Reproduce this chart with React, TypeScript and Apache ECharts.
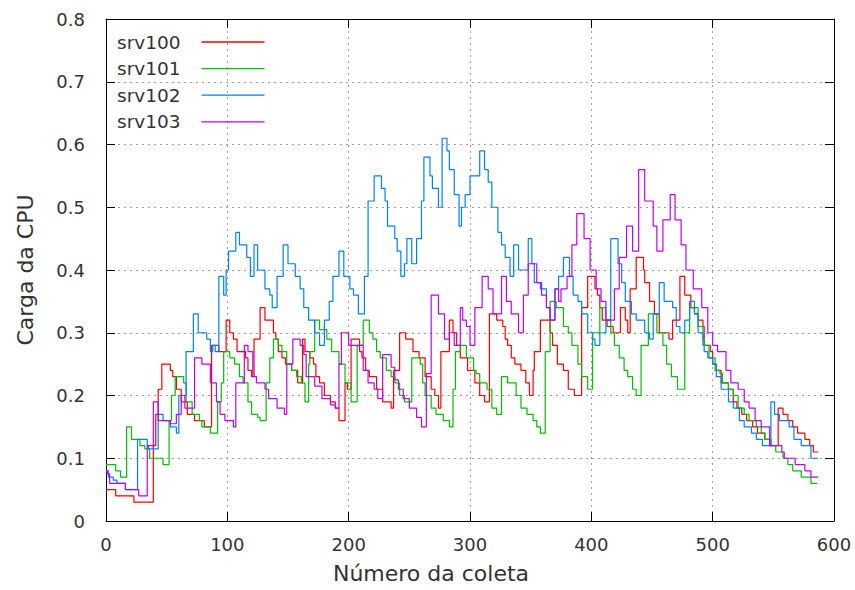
import React, { useEffect, useRef } from "react";
import * as echarts from "echarts";

// Sampled CPU load per server: [collection number, load], value holds until the next sample
const srv100: [number, number][] = [
  [0, 0.05], [8, 0.04], [23, 0.03], [39, 0.12], [41, 0.17], [43, 0.21], [46, 0.25], [53, 0.24], [55, 0.23],
  [58, 0.21], [62, 0.19], [67, 0.17], [73, 0.16], [81, 0.15], [87, 0.28], [93, 0.27], [99, 0.32], [102, 0.3],
  [105, 0.29], [108, 0.27], [115, 0.26], [117, 0.24], [120, 0.23], [122, 0.29], [127, 0.34], [131, 0.32],
  [138, 0.3], [140, 0.29], [142, 0.27], [145, 0.26], [148, 0.25], [153, 0.24], [158, 0.22], [162, 0.29],
  [164, 0.27], [168, 0.26], [171, 0.25], [173, 0.23], [176, 0.22], [180, 0.2], [185, 0.19], [189, 0.18],
  [192, 0.16], [197, 0.22], [199, 0.21], [202, 0.29], [209, 0.27], [211, 0.26], [214, 0.24], [217, 0.23],
  [223, 0.21], [228, 0.19], [235, 0.18], [237, 0.24], [242, 0.3], [247, 0.29], [253, 0.27], [258, 0.26],
  [263, 0.23], [268, 0.21], [271, 0.2], [274, 0.18], [276, 0.27], [283, 0.32], [286, 0.3], [289, 0.28],
  [292, 0.26], [298, 0.24], [304, 0.22], [308, 0.2], [312, 0.19], [316, 0.33], [322, 0.32], [327, 0.31],
  [329, 0.29], [331, 0.28], [334, 0.26], [337, 0.25], [342, 0.24], [346, 0.22], [349, 0.2], [352, 0.24],
  [353, 0.27], [358, 0.32], [366, 0.3], [368, 0.28], [372, 0.25], [377, 0.24], [381, 0.21], [386, 0.2],
  [392, 0.34], [397, 0.39], [403, 0.37], [405, 0.36], [407, 0.34], [409, 0.32], [413, 0.31], [418, 0.3],
  [424, 0.34], [428, 0.32], [430, 0.3], [432, 0.37], [437, 0.42], [443, 0.4], [444, 0.38], [448, 0.35],
  [452, 0.33], [456, 0.3], [464, 0.29], [467, 0.32], [473, 0.39], [477, 0.36], [482, 0.34], [485, 0.33],
  [488, 0.32], [492, 0.31], [493, 0.28], [498, 0.27], [500, 0.25], [503, 0.24], [507, 0.22], [513, 0.21],
  [517, 0.19], [520, 0.18], [524, 0.17], [528, 0.16], [533, 0.15], [537, 0.14], [543, 0.13], [548, 0.12],
  [554, 0.18], [558, 0.17], [562, 0.16], [566, 0.15], [570, 0.14], [576, 0.13], [580, 0.12], [583, 0.11],
  [587, 0.11],
];

const srv101: [number, number][] = [
  [0, 0.09], [8, 0.08], [12, 0.07], [17, 0.15], [21, 0.13], [28, 0.12], [32, 0.115], [36, 0.1], [47, 0.09],
  [52, 0.16], [54, 0.2], [57, 0.23], [64, 0.22], [66, 0.19], [71, 0.17], [77, 0.16], [79, 0.15], [86, 0.14],
  [92, 0.19], [95, 0.22], [97, 0.27], [102, 0.26], [106, 0.25], [110, 0.23], [113, 0.22], [117, 0.19],
  [120, 0.17], [125, 0.165], [127, 0.16], [132, 0.22], [135, 0.26], [138, 0.29], [142, 0.28], [145, 0.27],
  [149, 0.25], [153, 0.24], [157, 0.23], [161, 0.22], [164, 0.19], [167, 0.25], [168, 0.27], [172, 0.32],
  [176, 0.305], [182, 0.29], [186, 0.27], [192, 0.25], [197, 0.22], [202, 0.19], [207, 0.28], [212, 0.32],
  [217, 0.3], [220, 0.29], [223, 0.27], [226, 0.26], [231, 0.24], [235, 0.23], [238, 0.22], [242, 0.2],
  [246, 0.19], [252, 0.26], [259, 0.25], [261, 0.22], [263, 0.2], [268, 0.18], [272, 0.17], [278, 0.16],
  [283, 0.15], [286, 0.21], [288, 0.27], [292, 0.28], [297, 0.26], [303, 0.24], [305, 0.235], [308, 0.22],
  [314, 0.21], [318, 0.18], [322, 0.17], [326, 0.23], [331, 0.22], [338, 0.2], [342, 0.18], [347, 0.17],
  [352, 0.16], [355, 0.15], [358, 0.14], [362, 0.27], [366, 0.35], [371, 0.34], [377, 0.31], [381, 0.3],
  [384, 0.28], [389, 0.25], [392, 0.23], [397, 0.21], [401, 0.3], [407, 0.34], [412, 0.32], [416, 0.3],
  [419, 0.28], [423, 0.26], [427, 0.24], [430, 0.23], [434, 0.21], [437, 0.2], [441, 0.28], [447, 0.33],
  [454, 0.3], [459, 0.28], [462, 0.25], [466, 0.23], [471, 0.21], [477, 0.3], [481, 0.34], [488, 0.31],
  [492, 0.29], [493, 0.28], [497, 0.26], [502, 0.24], [506, 0.235], [508, 0.22], [513, 0.21], [517, 0.2],
  [521, 0.18], [526, 0.17], [530, 0.16], [536, 0.15], [540, 0.14], [543, 0.13], [547, 0.12], [552, 0.11],
  [558, 0.1], [562, 0.09], [566, 0.08], [573, 0.07], [581, 0.06], [586, 0.06],
];

const srv102: [number, number][] = [
  [0, 0.08], [2, 0.07], [6, 0.065], [9, 0.06], [16, 0.05], [26, 0.13], [34, 0.12], [35, 0.115], [43, 0.17],
  [47, 0.16], [53, 0.15], [58, 0.14], [60, 0.2], [66, 0.27], [72, 0.33], [76, 0.3], [83, 0.29], [86, 0.27],
  [88, 0.28], [90, 0.27], [93, 0.39], [97, 0.36], [99, 0.4], [101, 0.43], [107, 0.46], [110, 0.44],
  [116, 0.42], [119, 0.39], [122, 0.44], [125, 0.4], [131, 0.37], [135, 0.36], [137, 0.34], [141, 0.39],
  [146, 0.44], [150, 0.41], [156, 0.39], [160, 0.37], [163, 0.34], [167, 0.32], [172, 0.3], [176, 0.28],
  [180, 0.32], [184, 0.35], [187, 0.39], [192, 0.43], [196, 0.39], [201, 0.37], [204, 0.36], [208, 0.33],
  [213, 0.39], [216, 0.51], [221, 0.55], [227, 0.53], [230, 0.51], [232, 0.47], [238, 0.45], [240, 0.43],
  [243, 0.39], [246, 0.41], [248, 0.45], [252, 0.41], [256, 0.45], [260, 0.51], [262, 0.58], [267, 0.55],
  [269, 0.53], [274, 0.5], [277, 0.61], [281, 0.59], [283, 0.56], [287, 0.52], [291, 0.47], [293, 0.5],
  [296, 0.52], [300, 0.55], [308, 0.59], [312, 0.56], [315, 0.54], [318, 0.5], [323, 0.46], [326, 0.44],
  [329, 0.42], [333, 0.39], [336, 0.44], [340, 0.4], [348, 0.45], [351, 0.41], [353, 0.38], [358, 0.37],
  [363, 0.34], [366, 0.32], [370, 0.37], [373, 0.39], [377, 0.42], [382, 0.39], [385, 0.36], [389, 0.35],
  [392, 0.33], [397, 0.3], [401, 0.29], [403, 0.28], [407, 0.3], [412, 0.32], [416, 0.45], [422, 0.41],
  [425, 0.38], [428, 0.35], [433, 0.33], [437, 0.32], [444, 0.3], [448, 0.29], [451, 0.33], [456, 0.38],
  [460, 0.35], [467, 0.34], [470, 0.31], [473, 0.3], [477, 0.32], [481, 0.35], [485, 0.33], [488, 0.3],
  [492, 0.28], [493, 0.27], [496, 0.26], [500, 0.25], [503, 0.23], [507, 0.21], [513, 0.19], [517, 0.18],
  [522, 0.16], [526, 0.15], [532, 0.14], [536, 0.13], [541, 0.12], [548, 0.19], [551, 0.17], [555, 0.16],
  [563, 0.15], [567, 0.13], [573, 0.12], [581, 0.1], [587, 0.1],
];

const srv103: [number, number][] = [
  [0, 0.08], [1, 0.075], [3, 0.06], [16, 0.05], [27, 0.04], [34, 0.12], [39, 0.19], [43, 0.16], [53, 0.155],
  [58, 0.17], [62, 0.2], [65, 0.18], [73, 0.26], [79, 0.25], [86, 0.22], [91, 0.19], [94, 0.17], [98, 0.16],
  [105, 0.15], [107, 0.22], [114, 0.28], [117, 0.27], [121, 0.23], [124, 0.22], [131, 0.21], [134, 0.195],
  [141, 0.18], [147, 0.17], [149, 0.25], [154, 0.29], [160, 0.28], [163, 0.265], [165, 0.23], [172, 0.215],
  [178, 0.195], [185, 0.185], [189, 0.18], [192, 0.25], [194, 0.3], [200, 0.28], [212, 0.24], [216, 0.22],
  [221, 0.21], [224, 0.195], [228, 0.265], [235, 0.245], [238, 0.225], [241, 0.21], [245, 0.195], [250, 0.18],
  [256, 0.165], [260, 0.15], [264, 0.235], [268, 0.36], [274, 0.33], [279, 0.29], [283, 0.3], [287, 0.28],
  [292, 0.34], [294, 0.32], [297, 0.31], [300, 0.28], [304, 0.34], [310, 0.39], [315, 0.37], [319, 0.33],
  [326, 0.39], [330, 0.35], [334, 0.33], [340, 0.3], [344, 0.36], [348, 0.41], [355, 0.38], [359, 0.36],
  [363, 0.34], [366, 0.32], [370, 0.37], [373, 0.35], [375, 0.37], [380, 0.39], [384, 0.44], [388, 0.49],
  [394, 0.45], [399, 0.4], [404, 0.37], [408, 0.35], [412, 0.32], [419, 0.37], [423, 0.42], [429, 0.47],
  [434, 0.43], [439, 0.56], [444, 0.51], [451, 0.47], [454, 0.43], [459, 0.48], [465, 0.52], [469, 0.48],
  [474, 0.44], [478, 0.4], [484, 0.37], [491, 0.34], [496, 0.3], [500, 0.28], [504, 0.27], [511, 0.24],
  [515, 0.22], [521, 0.21], [526, 0.19], [530, 0.18], [535, 0.16], [540, 0.15], [547, 0.12], [557, 0.11],
  [559, 0.1], [568, 0.09], [576, 0.08], [581, 0.07], [587, 0.07],
];

const serverNames = ["srv100", "srv101", "srv102", "srv103"];
const serverColors = ["#ff0000", "#00c000", "#0080ff", "#c000ff"];
const serverData = [srv100, srv101, srv102, srv103];

const xRange = { min: 0, max: 600, step: 100 };
const yRange = { min: 0, max: 0.8, step: 0.1 };

const FONT = "DejaVu Sans";
const INK = "#000000";
const TEXT = "#333333";

function frameAxis(position: string, extra: Record<string, unknown>) {
  return {
    type: "value",
    position,
    axisLine: { show: true, onZero: false, lineStyle: { color: INK, width: 1 } },
    axisTick: { show: true, inside: true, length: 9, lineStyle: { color: INK, width: 1 } },
    ...extra,
  };
}

export default function App() {
  const ref = useRef<HTMLDivElement>(null);

  useEffect(() => {
    if (!ref.current) return;
    const chart = echarts.init(ref.current, undefined, { renderer: "svg" });

    const gridLine = { show: true, lineStyle: { color: "#a0a0a0", width: 1, type: [2, 4] } };

    chart.setOption({
      animation: false,
      backgroundColor: "#ffffff",
      grid: { left: 106, right: 21, top: 19, bottom: 69, containLabel: false },
      legend: {
        orient: "vertical",
        left: 117,
        top: 32,
        padding: 0,
        align: "right",
        itemWidth: 79,
        itemHeight: 14,
        itemGap: 6.6,
        icon: "path://M0,0M16,0L79,0L79,1.3L16,1.3Z",
        itemStyle: { borderWidth: 0 },
        textStyle: { fontFamily: FONT, fontSize: 18.5, color: TEXT, lineHeight: 20 },
        data: serverNames,
      },
      xAxis: [
        frameAxis("bottom", {
          min: xRange.min,
          max: xRange.max,
          interval: xRange.step,
          axisLabel: { show: true, margin: 14, fontFamily: FONT, fontSize: 18, color: TEXT },
          splitLine: gridLine,
          name: "Número da coleta",
          nameLocation: "middle",
          nameGap: 41,
          nameTextStyle: { fontFamily: FONT, fontSize: 22, color: TEXT, padding: [0, 78, 0, 0] },
        }),
        frameAxis("top", {
          min: xRange.min,
          max: xRange.max,
          interval: xRange.step,
          axisLabel: { show: false },
          splitLine: { show: false },
        }),
      ],
      yAxis: [
        frameAxis("left", {
          min: yRange.min,
          max: yRange.max,
          interval: yRange.step,
          axisLabel: { show: true, margin: 21, fontFamily: FONT, fontSize: 18, color: TEXT },
          splitLine: gridLine,
          name: "Carga da CPU",
          nameLocation: "middle",
          nameGap: 70,
          nameTextStyle: { fontFamily: FONT, fontSize: 22, color: TEXT },
        }),
        frameAxis("right", {
          min: yRange.min,
          max: yRange.max,
          interval: yRange.step,
          axisLabel: { show: false },
          splitLine: { show: false },
        }),
      ],
      series: serverNames.map((name, i) => ({
        name,
        type: "line",
        step: "end",
        xAxisIndex: 0,
        yAxisIndex: 0,
        showSymbol: false,
        symbol: "none",
        color: serverColors[i],
        lineStyle: { color: serverColors[i], width: 1.2 },
        data: serverData[i],
      })),
    });

    return () => chart.dispose();
  }, []);

  return (
    <div
      ref={ref}
      style={{ position: "fixed", left: 0, top: 0, width: 855, height: 590, background: "#fff" }}
    />
  );
}
